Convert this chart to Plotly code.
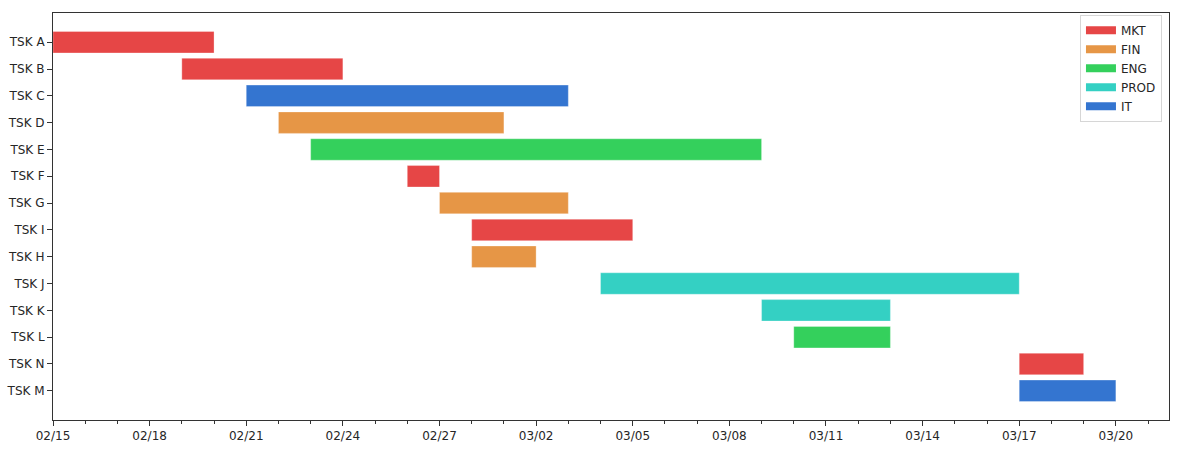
import plotly.graph_objects as go
import pandas as pd

tasks = ["TSK A", "TSK B", "TSK C", "TSK D", "TSK E", "TSK F", "TSK G",
         "TSK I", "TSK H", "TSK J", "TSK K", "TSK L", "TSK N", "TSK M"]
departments = ["MKT", "MKT", "IT", "FIN", "ENG", "MKT", "FIN",
               "MKT", "FIN", "PROD", "PROD", "ENG", "MKT", "IT"]
starts = ["2022-02-15", "2022-02-19", "2022-02-21", "2022-02-22", "2022-02-23",
          "2022-02-26", "2022-02-27", "2022-02-28", "2022-02-28", "2022-03-04",
          "2022-03-09", "2022-03-10", "2022-03-17", "2022-03-17"]
ends = ["2022-02-20", "2022-02-24", "2022-03-03", "2022-03-01", "2022-03-09",
        "2022-02-27", "2022-03-03", "2022-03-05", "2022-03-02", "2022-03-17",
        "2022-03-13", "2022-03-13", "2022-03-19", "2022-03-20"]
dept_order = ["MKT", "FIN", "ENG", "PROD", "IT"]
dept_colors = {"MKT": "#E64646", "FIN": "#E69646", "ENG": "#34D05C",
               "PROD": "#34D0C3", "IT": "#3475D0"}
x_tick_labels_fmt = "%m/%d"

df = pd.DataFrame({"task": tasks, "dept": departments,
                   "start": pd.to_datetime(starts), "end": pd.to_datetime(ends)})
df["dur_ms"] = (df["end"] - df["start"]).dt.total_seconds() * 1000

fig = go.Figure()
for d in dept_order:
    sub = df[df["dept"] == d]
    fig.add_trace(go.Bar(
        y=sub["task"], x=sub["dur_ms"], base=sub["start"].dt.strftime("%Y-%m-%d"),
        orientation="h", name=d, width=0.8, showlegend=False, legendgroup=d,
        marker=dict(color=dept_colors[d], line=dict(width=0.6, color="rgba(255,255,255,0.5)")),
    ))
# legend swatches (matplotlib-style wide patches)
for d in dept_order:
    fig.add_trace(go.Scatter(
        x=[None], y=[None], mode="lines", name=d, legendgroup=d,
        line=dict(color=dept_colors[d], width=8),
    ))

n = len(tasks)
pad = 0.4 + 0.05 * (n - 1 + 0.8)
fig.update_layout(
    width=1184, height=456,
    margin=dict(l=53, r=15, t=13, b=36),
    paper_bgcolor="white", plot_bgcolor="white",
    font=dict(family="DejaVu Sans", size=12, color="#262626"),
    barmode="overlay",
    showlegend=True,
    legend=dict(x=0.9937, y=0.996, xanchor="right", yanchor="top",
                bordercolor="#d6d6d6", borderwidth=1, bgcolor="rgba(255,255,255,0.8)",
                font=dict(size=12), tracegroupgap=0, itemwidth=30),
)
fig.update_xaxes(
    type="date", range=["2022-02-15", "2022-03-21 15:36"], automargin=False,
    tick0="2022-02-15", dtick=3 * 86400000, tickformat=x_tick_labels_fmt,
    ticks="outside", ticklen=5, tickcolor="#333", tickwidth=1,
    minor=dict(dtick=86400000, tick0="2022-02-15", ticks="outside", ticklen=3, tickcolor="#333"),
    showline=True, linecolor="#333", linewidth=1, mirror=True,
    showgrid=False, zeroline=False,
)
fig.update_yaxes(
    type="category", categoryorder="array", categoryarray=tasks, automargin=False,
    range=[n - 1 + pad, -pad],
    ticks="outside", ticklen=5, tickcolor="#333", tickwidth=1,
    showline=True, linecolor="#333", linewidth=1, mirror=True,
    showgrid=False, zeroline=False,
)
fig.write_html("out.html", config={"displayModeBar": False},
               post_script="document.body.style.margin='0';document.body.style.overflow='hidden';")
